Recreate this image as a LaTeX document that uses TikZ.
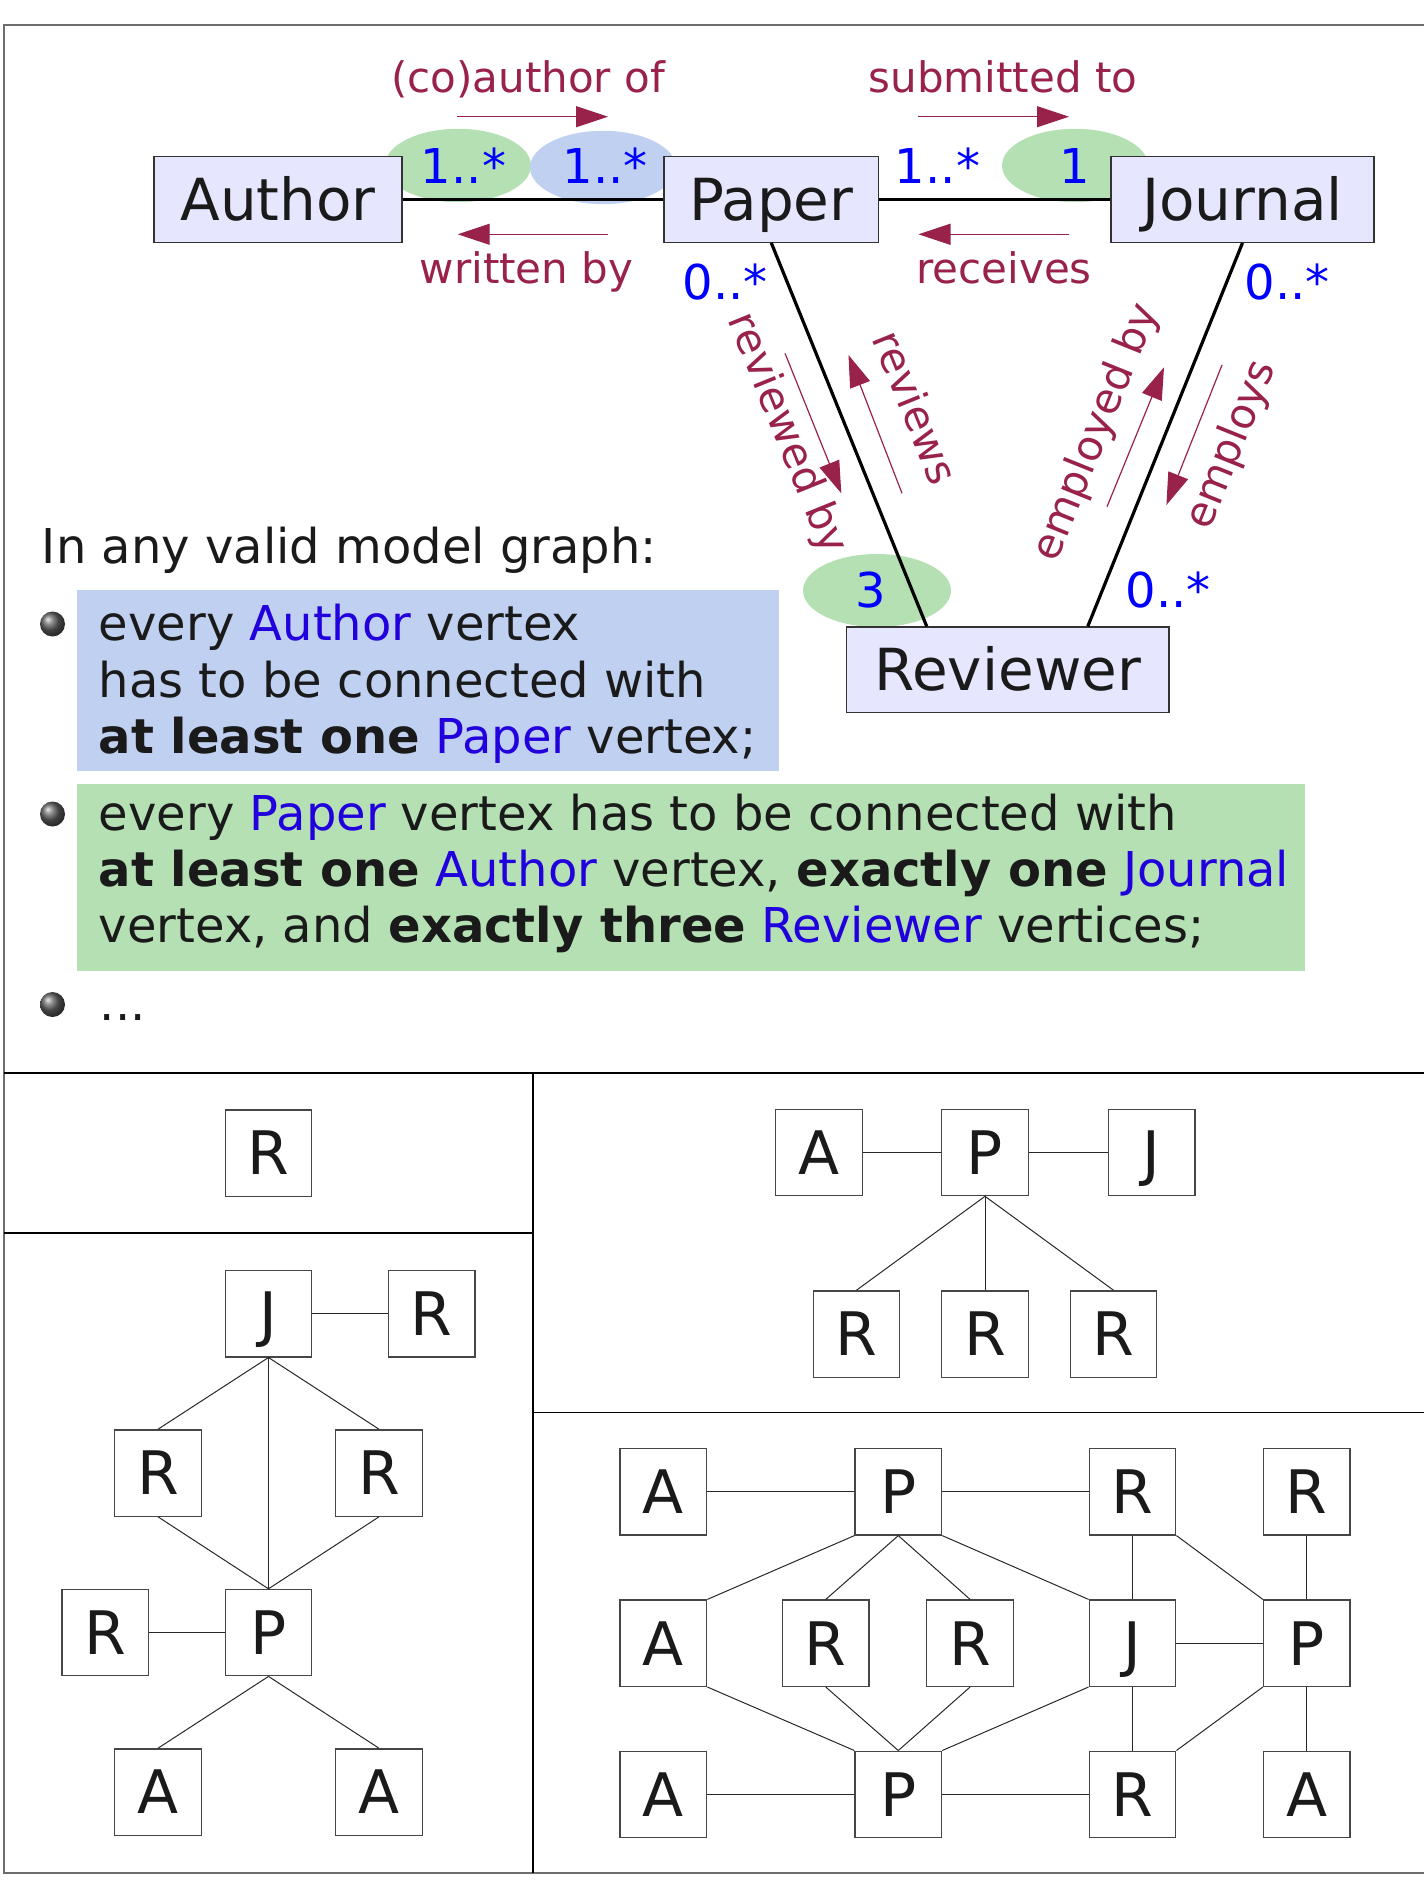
\documentclass[tikz,border=0pt]{standalone}
\usepackage{fontspec}
\setmainfont{DejaVu Sans}
\usetikzlibrary{arrows.meta,shapes.geometric,calc,shadings}

\definecolor{clsfill}{RGB}{230,230,255}
\definecolor{clsline}{RGB}{51,51,51}
\definecolor{greenfill}{RGB}{180,224,180}
\definecolor{bluefill}{RGB}{192,208,240}
\definecolor{relcol}{RGB}{153,34,74}
\definecolor{multcol}{RGB}{0,0,255}
\definecolor{keycol}{RGB}{34,0,221}
\definecolor{ink}{RGB}{26,26,26}
\definecolor{framecol}{RGB}{110,110,110}
\definecolor{minline}{RGB}{70,70,70}
\definecolor{linkcol}{RGB}{40,40,40}

\newcommand\keyw[1]{\textcolor{keycol}{#1}}

\begin{document}
\begin{tikzpicture}[x=0.5pt,y=-0.5pt,
  cls/.style={draw=clsline, fill=clsfill, line width=0.6pt, inner sep=0pt,
    minimum height=42.8pt, text height=21.1pt, text depth=0pt,
    font=\fontsize{29pt}{34pt}\selectfont, text=ink},
  mulbg/.style={ellipse, inner sep=0pt, minimum width=73pt, minimum height=36.7pt},
  mult/.style={text=multcol, font=\fontsize{24pt}{28pt}\selectfont, inner sep=0pt, anchor=base},
  rel/.style={text=relcol, font=\fontsize{21pt}{25pt}\selectfont, inner sep=0pt, anchor=base},
  relarrow/.style={draw=relcol, line width=0.6pt, -{Triangle[length=16pt,width=10.5pt]}},
  assoc/.style={line width=1.6pt, draw=black},
  txt/.style={text=ink, font=\fontsize{24pt}{28pt}\selectfont, inner sep=0pt, anchor=base west},
  bulletdot/.style={circle, shading=ball, ball color=gray!75!black, minimum size=12.5pt, inner sep=0pt},
  hintbox/.style={inner sep=0pt},
  divider/.style={draw=black, line width=0.9pt},
  mini/.style={draw=minline, fill=white, line width=0.65pt, inner sep=0pt,
    minimum width=43.3pt, minimum height=43.15pt, text height=21.9pt, text depth=0pt,
    font=\fontsize{30pt}{34pt}\selectfont, text=ink},
  link/.style={draw=linkcol, line width=0.5pt}
]
\useasboundingbox (0,0) rectangle (1424,1888);

% frame, open on the right
\draw[framecol, line width=0.9pt] (1424,25.3) -- (3.7,25.3) -- (3.7,1873) -- (1424,1873);

% ---------------- class diagram ----------------
% multiplicity highlights
\node[mulbg, fill=greenfill] (hA) at (458,165.5) {};
\node[mulbg, fill=bluefill] (hP) at (603,167.5) {};
\node[mulbg, fill=greenfill] (hJ) at (1075,165.5) {};
\node[mulbg, fill=greenfill, minimum width=74pt, minimum height=36.5pt] (hR) at (877,590.5) {};

% classes
\node[cls, minimum width=124pt] (author) at (278,199.5) {Author};
\node[cls, minimum width=107.4pt] (paper) at (771.3,199.5) {Paper};
\node[cls, minimum width=131.5pt] (journal) at (1242.5,199.5) {Journal};
\node[cls, minimum width=161.2pt, minimum height=42.65pt] (reviewer) at (1007.75,669.7) {Reviewer};

% associations
\draw[assoc] (author.east) -- (paper.west);
\draw[assoc] (paper.east) -- (journal.west);
\draw[assoc] (paper.south) -- ($(reviewer.north)+(-81,0)$);
\draw[assoc] (journal.south) -- ($(reviewer.north)+(80,0)$);

% multiplicities
\node[mult] (mA) at (463.5,184) {1..*};
\node[mult] (mP1) at (605,184) {1..*};
\node[mult] (mP2) at (937.5,184) {1..*};
\node[mult] (mJ) at (1074.5,184) {1};
\node[mult] (mP3) at (725,300) {0..*};
\node[mult] (mJ2) at (1287,300) {0..*};
\node[mult] (mR2) at (1168,607) {0..*};
\node[mult] (mR1) at (871,607) {3};

% role names with reading directions
\node[rel] (coauth) at (528,93) {(co)author of};
\node[rel] (wrby) at (526.5,283.5) {written by};
\node[rel] (subm) at (1003,93) {submitted to};
\node[rel] (recv) at (1004,283.3) {receives};
\node[rel, rotate=-67.9] (revby) at (775.4,438.1) {reviewed by};
\node[rel, rotate=-67.9] (revs) at (901.8,413.3) {reviews};
\node[rel, rotate=68.1] (empby) at (1107.7,436.6) {employed by};
\node[rel, rotate=68.1] (emps) at (1242.9,449.1) {employs};

\coordinate (caS) at (457,116.7);   \coordinate (caE) at (608,116.7);
\coordinate (wbS) at (608,234.3);   \coordinate (wbE) at (457.7,234.3);
\coordinate (stS) at (918,116.7);   \coordinate (stE) at (1069,116.7);
\coordinate (rcS) at (1069,234.3);  \coordinate (rcE) at (918.5,234.3);
\coordinate (rbS) at (785,353.3);   \coordinate (rbE) at (841.3,493.3);
\coordinate (rvS) at (902,493.3);   \coordinate (rvE) at (848.5,355);
\coordinate (ebS) at (1107,506.7);  \coordinate (ebE) at (1164,367.3);
\coordinate (emS) at (1222,365);    \coordinate (emE) at (1166.4,505);
\draw[relarrow] (caS) -- (caE);
\draw[relarrow] (wbS) -- (wbE);
\draw[relarrow] (stS) -- (stE);
\draw[relarrow] (rcS) -- (rcE);
\draw[relarrow] (rbS) -- (rbE);
\draw[relarrow] (rvS) -- (rvE);
\draw[relarrow] (ebS) -- (ebE);
\draw[relarrow] (emS) -- (emE);

% ---------------- constraints ----------------
\node[txt] (intro) at (41.5,563.3) {In any valid model graph:};

\node[hintbox, fill=bluefill, minimum width=351.25pt, minimum height=90.5pt] (hint1) at (427.75,680.5) {};
\node[hintbox, fill=greenfill, minimum width=614pt, minimum height=93.35pt] (hint2) at (691,877.35) {};

\node[bulletdot] (dot1) at (52.5,624) {};
\node[bulletdot] (dot2) at (52.5,814) {};
\node[bulletdot] (dot3) at (52.5,1004.5) {};

\node[txt] (t11) at (98.5,640) {every \keyw{Author} vertex};
\node[txt] (t12) at (98.5,697) {has to be connected with};
\node[txt] (t13) at (98.5,753) {\textbf{at least one} \keyw{Paper} vertex;};

\node[txt] (t21) at (98.5,830) {every \keyw{Paper} vertex has to be connected with};
\node[txt] (t22) at (98.5,886.7) {\textbf{at least one} \keyw{Author} vertex, \textbf{exactly one} \keyw{Journal}};
\node[txt] (t23) at (98.5,942) {vertex, and \textbf{exactly three} \keyw{Reviewer} vertices;};

\node[txt] (t31) at (99.5,1020.7) {...};

% ---------------- example graphs ----------------
\draw[divider] (3.7,1073) -- (1424,1073);
\draw[divider] (533,1073) -- (533,1873);
\draw[divider] (3.7,1233) -- (533,1233);
\draw[divider] (533,1412.5) -- (1424,1412.5);

% single reviewer
\node[mini] (s0) at (268.5,1153) {R};

% journal with reviewers and one paper
\node[mini] (gJ) at (268.5,1313.7) {J};
\node[mini] (gR0) at (431.8,1313.7) {R};
\node[mini] (gR1) at (158,1473) {R};
\node[mini] (gR2) at (379,1473) {R};
\node[mini] (gR3) at (105.3,1632.6) {R};
\node[mini] (gP) at (268.5,1632.6) {P};
\node[mini] (gA1) at (158,1792) {A};
\node[mini] (gA2) at (379,1792) {A};
\draw[link] (gJ.east) -- (gR0.west);
\draw[link] (gJ.south) -- (gR1.north);
\draw[link] (gJ.south) -- (gR2.north);
\draw[link] (gJ.south) -- (gP.north);
\draw[link] (gR1.south) -- (gP.north);
\draw[link] (gR2.south) -- (gP.north);
\draw[link] (gR3.east) -- (gP.west);
\draw[link] (gP.south) -- (gA1.north);
\draw[link] (gP.south) -- (gA2.north);

% one paper
\node[mini] (uA) at (819,1152.5) {A};
\node[mini] (uP) at (985,1152.5) {P};
\node[mini] (uJ) at (1151.6,1152.5) {J};
\node[mini] (uR1) at (856.5,1334) {R};
\node[mini] (uR2) at (985,1334) {R};
\node[mini] (uR3) at (1113.5,1334) {R};
\draw[link] (uA.east) -- (uP.west);
\draw[link] (uP.east) -- (uJ.west);
\draw[link] (uP.south) -- (uR1.north);
\draw[link] (uP.south) -- (uR2.north);
\draw[link] (uP.south) -- (uR3.north);

% three papers
\node[mini] (q11) at (663.4,1491.8) {A};
\node[mini] (q12) at (898.3,1491.8) {P};
\node[mini] (q13) at (1132.5,1491.8) {R};
\node[mini] (q14) at (1306.8,1491.8) {R};
\node[mini] (q21) at (663.4,1643.2) {A};
\node[mini] (q2a) at (825.75,1643.2) {R};
\node[mini] (q2b) at (970.1,1643.2) {R};
\node[mini] (q23) at (1132.5,1643.2) {J};
\node[mini] (q24) at (1306.8,1643.2) {P};
\node[mini] (q31) at (663.4,1794.3) {A};
\node[mini] (q32) at (898.3,1794.3) {P};
\node[mini] (q33) at (1132.5,1794.3) {R};
\node[mini] (q34) at (1306.8,1794.3) {A};
\draw[link] (q11.east) -- (q12.west);
\draw[link] (q12.east) -- (q13.west);
\draw[link] (q12.south west) -- (q21.north east);
\draw[link] (q12.south) -- (q2a.north);
\draw[link] (q12.south) -- (q2b.north);
\draw[link] (q12.south east) -- (q23.north west);
\draw[link] (q13.south) -- (q23.north);
\draw[link] (q13.south east) -- (q24.north west);
\draw[link] (q14.south) -- (q24.north);
\draw[link] (q23.east) -- (q24.west);
\draw[link] (q21.south east) -- (q32.north west);
\draw[link] (q2a.south) -- (q32.north);
\draw[link] (q2b.south) -- (q32.north);
\draw[link] (q23.south west) -- (q32.north east);
\draw[link] (q23.south) -- (q33.north);
\draw[link] (q24.south west) -- (q33.north east);
\draw[link] (q24.south) -- (q34.north);
\draw[link] (q31.east) -- (q32.west);
\draw[link] (q32.east) -- (q33.west);
\end{tikzpicture}
\end{document}
